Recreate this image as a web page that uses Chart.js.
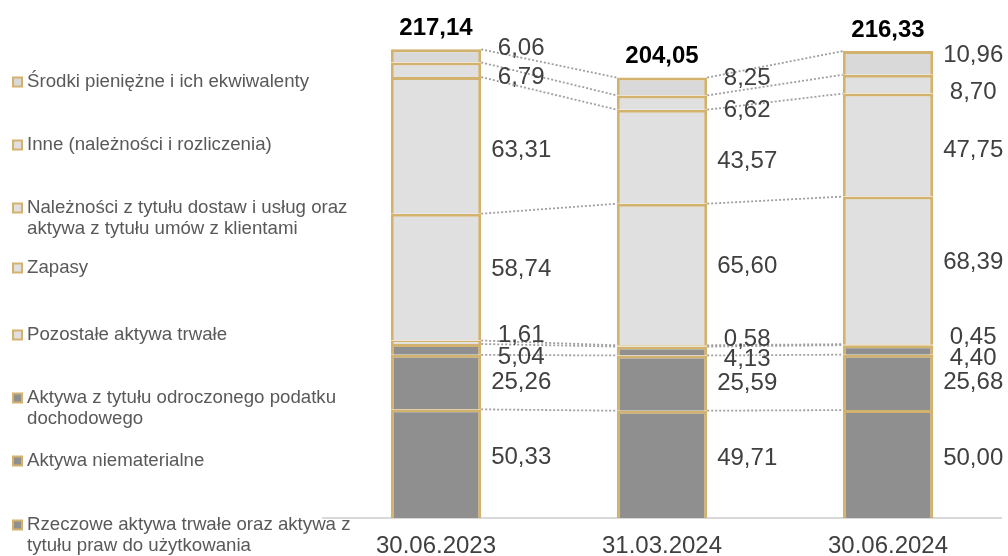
<!DOCTYPE html>
<html>
<head>
<meta charset="utf-8">
<script src="https://cdn.jsdelivr.net/npm/chart.js@4/dist/chart.umd.min.js"></script>
<style>
  html, body { margin: 0; padding: 0; background: #fff; overflow: hidden; }
  #wrap { width: 1008px; height: 556px; position: relative; }
</style>
</head>
<body>
<div id="wrap"><canvas id="chart"></canvas></div>
<script>
const dates = ['30.06.2023', '31.03.2024', '30.06.2024'];

// bottom to top
const rzeczowe = [50.33, 49.71, 50.00];
const niematerialne = [25.26, 25.59, 25.68];
const odroczonyPodatek = [5.04, 4.13, 4.40];
const pozostaleTrwale = [1.61, 0.58, 0.45];
const zapasy = [58.74, 65.60, 68.39];
const naleznosci = [63.31, 43.57, 47.75];
const inne = [6.79, 6.62, 8.70];
const srodki = [6.06, 8.25, 10.96];

const seriesNames = [
  ['Rzeczowe aktywa trwałe oraz aktywa z', 'tytułu praw do użytkowania'],
  ['Aktywa niematerialne'],
  ['Aktywa z tytułu odroczonego podatku', 'dochodowego'],
  ['Pozostałe aktywa trwałe'],
  ['Zapasy'],
  ['Należności z tytułu dostaw i usług oraz', 'aktywa z tytułu umów z klientami'],
  ['Inne (należności i rozliczenia)'],
  ['Środki pieniężne i ich ekwiwalenty']
];
const seriesValues = [rzeczowe, niematerialne, odroczonyPodatek, pozostaleTrwale, zapasy, naleznosci, inne, srodki];

const GOLD = '#d2b26c';
const DARK = '#8f8f8f';
const LIGHT = '#e0e0e0';
const seriesFill = [DARK, DARK, DARK, LIGHT, LIGHT, LIGHT, LIGHT, '#d9d9d9'];
// small vertical shifts of value labels so the thin ones don't collide
const labelNudge = [-6, 0, 8, -7, -8, 5, 8, -8];
// legend rows, top to bottom
const legendRows = [82, 145, 208, 268, 335, 398, 461, 525];

const FONT = '"Liberation Sans", Arial, sans-serif';

const fmt = v => v.toFixed(2).replace('.', ',');

const datasets = seriesValues.map((vals, i) => ({
  label: seriesNames[i].join(' '),
  data: vals,
  backgroundColor: seriesFill[i],
  borderColor: GOLD,
  borderWidth: 3,
  categoryPercentage: 1,
  barPercentage: 0.4
}));

const overlay = {
  id: 'overlay',
  beforeDatasetsDraw(chart) {
    const ctx = chart.ctx;
    ctx.save();
    ctx.strokeStyle = '#a0a0a0';
    ctx.lineWidth = 1.8;
    ctx.setLineDash([2, 2]);
    chart.data.datasets.forEach((ds, d) => {
      const bars = chart.getDatasetMeta(d).data;
      for (let i = 0; i < bars.length - 1; i++) {
        const a = bars[i], b = bars[i + 1];
        ctx.beginPath();
        ctx.moveTo(a.x + a.width / 2, a.y);
        ctx.lineTo(b.x - b.width / 2, b.y);
        ctx.stroke();
      }
    });
    ctx.restore();
  },
  afterDatasetsDraw(chart) {
    const ctx = chart.ctx;
    ctx.save();
    ctx.textAlign = 'center';
    ctx.textBaseline = 'middle';
    ctx.font = '24px ' + FONT;
    ctx.fillStyle = '#404040';
    chart.data.datasets.forEach((ds, d) => {
      chart.getDatasetMeta(d).data.forEach((el, i) => {
        const y = (el.y + el.base) / 2 + labelNudge[d];
        ctx.fillText(fmt(ds.data[i]), el.x + el.width / 2 + 40, y);
      });
    });
    // totals
    const last = chart.data.datasets.length - 1;
    ctx.font = 'bold 24px ' + FONT;
    ctx.fillStyle = '#000';
    chart.getDatasetMeta(last).data.forEach((el, i) => {
      const total = seriesValues.reduce((s, arr) => s + arr[i], 0);
      ctx.fillText(fmt(total), el.x, el.y - 21);
    });
    ctx.restore();
  },
  afterDraw(chart) {
    const ctx = chart.ctx;
    ctx.save();
    ctx.font = '18.67px ' + FONT;
    ctx.textBaseline = 'middle';
    ctx.textAlign = 'left';
    for (let r = 0; r < legendRows.length; r++) {
      const d = seriesNames.length - 1 - r;
      const y = legendRows[r];
      ctx.fillStyle = GOLD;
      ctx.fillRect(12, y - 5.5, 11, 11);
      ctx.fillStyle = seriesFill[d];
      ctx.fillRect(14, y - 3.5, 7, 7);
      ctx.fillStyle = '#595959';
      seriesNames[d].forEach((line, k) => ctx.fillText(line, 27, y + k * 21));
    }
    ctx.restore();
  }
};

new Chart(document.getElementById('chart'), {
  type: 'bar',
  data: { labels: dates, datasets: datasets },
  options: {
    responsive: true,
    maintainAspectRatio: false,
    animation: false,
    layout: { padding: { left: 323, right: 7, top: 0, bottom: 0 } },
    plugins: { legend: { display: false }, tooltip: { enabled: false } },
    scales: {
      x: {
        stacked: true,
        grid: { display: false, drawTicks: false },
        border: { display: true, color: '#d9d9d9', width: 2 },
        ticks: { color: '#404040', font: { size: 24, family: FONT }, padding: 14 },
        afterFit(scale) { scale.height = 38; }
      },
      y: {
        stacked: true,
        display: false,
        min: 0,
        max: 240
      }
    }
  },
  plugins: [overlay]
});
</script>
</body>
</html>
